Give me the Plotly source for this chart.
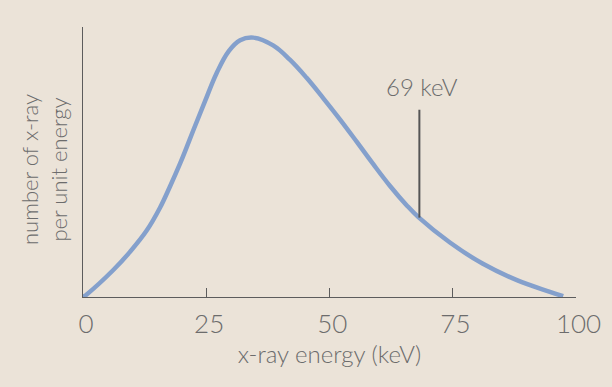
import plotly.graph_objects as go

# Spectrum (energy in keV, relative intensity, peak = 100)
energy_kev = [0, 0.75, 6.15, 9.54, 12.93, 15.63, 17.66, 19.7, 21.06, 22.4, 24.8, 27.1,
              29.6, 31.9, 34.6, 38.6, 42.0, 45.4, 48.8, 52.2, 55.6, 58.9, 62.3, 65.7,
              68.1, 74.5, 81.2, 88.1, 94.8, 97.5]
intensity = [0, 1.0, 10.4, 17.4, 25.6, 34.4, 42.6, 51.4, 57.8, 64.3, 75.6, 86.2,
             94.8, 99.0, 100, 97.0, 91.5, 84.5, 76.6, 68.4, 59.8, 51.3, 42.9, 35.4,
             30.8, 21.0, 12.8, 6.5, 2.0, 0.3]

x_ticks = [0, 25, 50, 75, 100]
x_tick_labels = ["0", "25", "50", "75", "100"]

marker_energy = 68.3
marker_bottom = 30.6
marker_top = 72.2
marker_label = "69 keV"
marker_label_y = 81.0

BG = "#ebe3d8"
TXT = "#6c6c6c"
AX = "#5c5c5c"
FONT = "Lato"
W = 300

fig = go.Figure()
fig.add_trace(go.Scatter(
    x=energy_kev, y=intensity, mode="lines",
    line=dict(color="#84a0cc", width=4.5, shape="spline", smoothing=1.1),
    hoverinfo="skip", showlegend=False,
))
fig.add_trace(go.Scatter(
    x=[marker_energy, marker_energy], y=[marker_bottom, marker_top], mode="lines",
    line=dict(color="#555555", width=2),
    hoverinfo="skip", showlegend=False,
))
fig.add_annotation(
    x=marker_energy + 0.5, y=marker_label_y, text=marker_label, showarrow=False,
    font=dict(family=FONT, size=24, color=TXT, weight=W), xanchor="center", yanchor="middle",
)
fig.add_annotation(
    xref="paper", yref="paper", x=0, y=0.5, xanchor="right", yanchor="middle",
    xshift=-9, yshift=-8, textangle=-90, showarrow=False,
    text="number of x-ray<br>per unit energy",
    font=dict(family=FONT, size=22, color=TXT, weight=W),
)

fig.update_layout(
    width=612, height=387,
    margin=dict(l=83, r=36, t=27, b=89.5),
    paper_bgcolor=BG, plot_bgcolor=BG,
    font=dict(family=FONT, color=TXT, weight=W),
    showlegend=False,
    xaxis=dict(
        range=[0, 100.1], tickvals=x_ticks, ticktext=x_tick_labels,
        ticks="inside", ticklen=9, tickwidth=1.3, tickcolor=AX,
        showline=True, linecolor=AX, linewidth=1.3,
        showgrid=False, zeroline=False,
        tickfont=dict(family=FONT, size=26, color=TXT, weight=W),
        ticklabelstandoff=4, ticklabelshift=3,
        title=dict(text="x-ray energy (keV)", font=dict(family=FONT, size=24, color=TXT, weight=W), standoff=3),
        automargin=False,
    ),
    yaxis=dict(
        range=[0, 104.1], showticklabels=False, ticks="",
        showline=True, linecolor=AX, linewidth=1.3,
        showgrid=False, zeroline=False,
        automargin=False,
    ),
)

fig.write_html(
    "out.html",
    config={"displayModeBar": False},
    post_script="document.body.style.margin='0px';document.body.style.background='%s';" % BG,
)
